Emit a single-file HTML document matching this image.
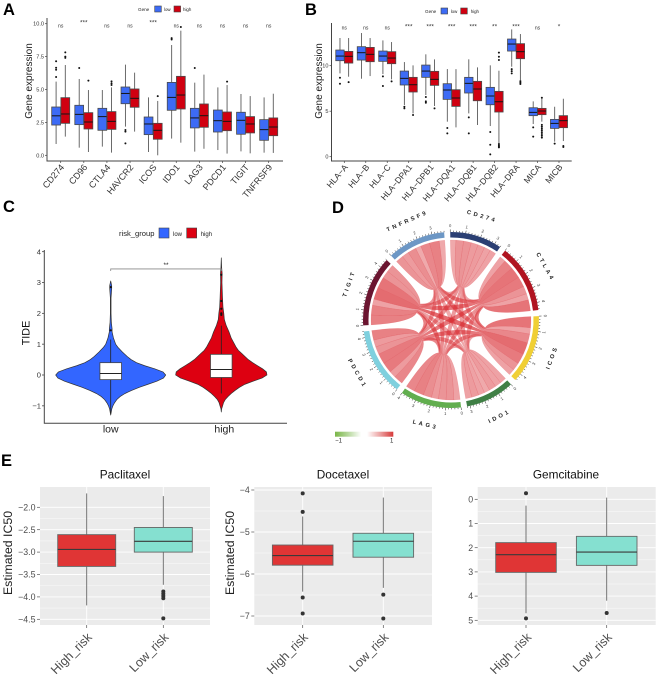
<!DOCTYPE html>
<html lang="en">
<head>
<meta charset="utf-8">
<title>Immune gene expression panels</title>
<style>
html,body{margin:0;padding:0;background:#fff;width:659px;height:678px;overflow:hidden}
svg{display:block;filter:blur(.3px)}
text{font-family:"Liberation Sans",sans-serif}
</style>
</head>
<body>
<svg id="fig" width="659" height="678" viewBox="0 0 659 678" xmlns="http://www.w3.org/2000/svg">
  <text x="3" y="15" font-size="16.5" font-weight="700">A</text>
  <text x="305" y="15" font-size="16.5" font-weight="700">B</text>
  <text x="3" y="212" font-size="16.5" font-weight="700">C</text>
  <text x="332" y="213" font-size="16.5" font-weight="700">D</text>
  <text x="1" y="466" font-size="16.5" font-weight="700">E</text>

  <g id="panelA">
    <text transform="translate(32,81) rotate(-90)" text-anchor="middle" font-size="10" fill="#222">Gene  expression</text>
    <text x="138" y="11" font-size="4.6" fill="#222">Gene</text>
    <rect x="154.7" y="6" width="6.6" height="6" fill="#3d6bf5" stroke="#444" stroke-width=".6"/>
    <text x="164" y="11" font-size="4.4" fill="#222">low</text>
    <rect x="174" y="6" width="6.6" height="6" fill="#d00010" stroke="#444" stroke-width=".6"/>
    <text x="183" y="11" font-size="4.4" fill="#222">high</text>
    <path d="M47 18V161H283" fill="none" stroke="#444" stroke-width="1"/>
  </g>

  <g id="panelB">
    <text transform="translate(322,81) rotate(-90)" text-anchor="middle" font-size="10" fill="#222">Gene  expression</text>
    <text x="425" y="13" font-size="4.6" fill="#222">Gene</text>
    <rect x="441" y="8" width="6.6" height="6" fill="#3d6bf5" stroke="#444" stroke-width=".6"/>
    <text x="450.7" y="13" font-size="4.4" fill="#222">low</text>
    <rect x="460.7" y="8" width="6.6" height="6" fill="#d00010" stroke="#444" stroke-width=".6"/>
    <text x="470.7" y="13" font-size="4.4" fill="#222">high</text>
    <path d="M331.5 23V161H571.7" fill="none" stroke="#444" stroke-width="1"/>
  </g>

  <g id="panelC">
    <text transform="translate(29.3,333) rotate(-90)" text-anchor="middle" font-size="10.8" fill="#111">TIDE</text>
    <text x="119" y="236" font-size="7.6" fill="#222">risk_group</text>
    <rect x="159" y="228" width="10" height="10" fill="#3366ff" stroke="#444" stroke-width=".6"/>
    <text x="173" y="236" font-size="6" fill="#222">low</text>
    <rect x="186.7" y="228" width="10" height="10" fill="#dd0011" stroke="#444" stroke-width=".6"/>
    <text x="200.7" y="236" font-size="6" fill="#222">high</text>
    <path d="M44.3 250V423.3H287" fill="none" stroke="#444" stroke-width="1"/>
  </g>

  <g id="panelD">
    <defs>
      <linearGradient id="corrGradient" x1="0" x2="1" y1="0" y2="0">
        <stop offset="0" stop-color="#7ab648"/>
        <stop offset=".22" stop-color="#b5d79b"/>
        <stop offset=".45" stop-color="#ffffff"/>
        <stop offset=".55" stop-color="#ffffff"/>
        <stop offset=".78" stop-color="#eba0a0"/>
        <stop offset="1" stop-color="#d73a3a"/>
      </linearGradient>
    </defs>
    <rect x="335" y="431.7" width="58.3" height="5" fill="url(#corrGradient)"/>
    <text x="338.5" y="442.5" text-anchor="middle" font-size="6" fill="#222">−1</text>
    <text x="391.7" y="442.5" text-anchor="middle" font-size="6" fill="#222">1</text>
  </g>

  <g id="panelE"></g>
</svg>

<script>
/* ---------- Panel A data: [whiskerLow, q1, median, q3, whiskerHigh] ---------- */
var aCategories = ["CD274","CD96","CTLA4","HAVCR2","ICOS","IDO1","LAG3","PDCD1","TIGIT","TNFRSF9"];
var aSignificance = ["ns","***","ns","ns","***","ns","ns","ns","ns","ns"];
var aTickValues = [0,2.5,5,7.5,10];
var aTickLabels = ["0.0","2.5","5.0","7.5","10.0"];
var aLowStats = [[.86,2.3,3,3.67,5.6],[.58,2.33,3.11,3.8,5.8],[.66,1.9,2.94,3.57,4.96],[2.18,3.92,4.7,5.19,6.89],[.25,1.57,2.38,2.91,4.4],[1.27,3.42,4.4,5.54,8.38],[.28,2.08,2.84,3.57,5.52],[.4,1.77,2.63,3.44,5.16],[.3,1.6,2.66,3.27,4.66],[.2,1.14,1.95,2.71,4.4]];
var aHighStats = [[1.42,2.43,3.14,4.38,6.86],[.25,2,2.53,3.24,4.96],[.2,1.97,2.58,3.32,5.16],[1.8,3.65,4.33,5.04,6.28],[0,1.22,1.9,2.43,4.13],[.96,3.52,4.58,6,9.47],[.5,2.13,3.01,3.9,6.13],[.13,1.87,2.58,3.29,5.34],[.15,1.7,2.38,2.94,4.5],[.18,1.49,2.15,2.84,4.68]];
var aLowOutliers = [[5.95,6.5,6.65,7.15],[6.63],[],[1.92,1.8,.91],[],[8.8,8.9],[6.63],[],[],[]];
var aHighOutliers = [[7.4,7.5,7.82],[5.67],[5.34,5.47,5.62],[],[4.5],[9.75],[],[5.6],[],[]];

/* ---------- Panel B data ---------- */
var bCategories = ["HLA-A","HLA-B","HLA-C","HLA-DPA1","HLA-DPB1","HLA-DQA1","HLA-DQB1","HLA-DQB2","HLA-DRA","MICA","MICB"];
var bSignificance = ["ns","ns","ns","***","***","***","***","**","***","ns","*"];
var bTickValues = [0,5,10];
var bTickLabels = ["0","5","10"];
var bLowStats = [[9.16,10.55,11.06,11.72,13.04],[8.57,10.62,11.43,12.09,13.59],[9.08,10.48,11.06,11.61,12.78],[5.68,7.88,8.61,9.41,10.4],[6.78,8.72,9.41,10.07,11.25],[3.85,6.3,7.33,8.02,9.63],[4.76,7,8.06,8.72,10.7],[3.37,5.71,6.67,7.62,10.04],[9.89,11.61,12.38,12.93,13.99],[3.59,4.51,4.87,5.38,6.08],[1.65,3.11,3.66,4.1,5.49]];
var bHighStats = [[8.79,10.29,11.03,11.57,13.04],[8.86,10.44,11.25,12.01,13.04],[8.5,10.22,10.84,11.54,12.6],[4.76,7.11,7.91,8.72,10.04],[5.57,7.84,8.5,9.38,10.7],[3.22,5.53,6.45,7.36,9.63],[3.48,6.15,7.44,8.28,9.82],[1.47,4.91,6.04,7.18,9.45],[8.42,10.77,11.54,12.42,13.48],[3.85,4.62,5.02,5.31,6.37],[1.72,3.19,3.96,4.51,6.37]];
var bLowOutliers = [[8.68,8.02],[],[8.83,7.77],[5.49,5.31],[6.56,6.08,5.93],[3.15,2.56],[4.32,2.56],[2.71,1.32,.26],[9.63,9.41,9.16],[3.22,2.2],[1.43]];
var bHighOutliers = [[8.2],[],[8.28],[4.58],[5.31],[],[],[1.39,1.25,1.1,1.03,11.43,10.99,10.62],[8.31,8.13,7.99],[3.5,3.3,3.1,2.9,2.7,2.5,2.3,2.1,6.48],[1.17,1.06]];

/* ---------- Panel C data ---------- */
var cCategories = ["low","high"];
var cTickValues = [-1,0,1,2,3,4];
var cTideGridLow = [-1.3,-1.1,-1,-.9,-.8,-.7,-.6,-.5,-.4,-.3,-.2,-.1,0,.1,.2,.3,.4,.5,.6,.75,.9,1,1.2,1.4,1.5,1.7,2,2.5,2.8,2.9,3.05];
var cDensityLow = [0,.02,.04,.07,.11,.17,.26,.38,.52,.68,.84,.96,1,.95,.8,.62,.47,.37,.3,.21,.13,.09,.05,.025,.025,.012,.006,.006,.018,.018,0];
var cTideGridHigh = [-1.2,-1.1,-1,-.9,-.8,-.7,-.6,-.5,-.4,-.3,-.2,-.1,0,.1,.2,.3,.4,.5,.6,.7,.8,.9,1,1.2,1.4,1.6,1.8,2,2.2,2.5,3,3.3,3.5,3.8];
var cDensityHigh = [0,.006,.024,.04,.07,.12,.18,.25,.33,.43,.58,.74,.83,.82,.75,.66,.57,.49,.43,.37,.31,.27,.24,.18,.14,.09,.055,.045,.03,.022,.012,.015,.006,0];
var cBoxStats = [[-1.25,-.15,.05,.4,1.15],[-.6,-.08,.18,.67,1.6]];
var cOutliers = [[2.85,1.45],[3.25,2.4,2.15,2,1.95]];
var cBracketValue = 3.44;

/* ---------- Panel D data (order follows chordGenes) ---------- */
var chordGenes = ["CD274","CTLA4","ICOS","IDO1","LAG3","PDCD1","TIGIT","TNFRSF9"];
var chordColors = ["#2b3f73","#b01420","#f0cf35","#3f7f45","#62ae4f","#7fd0de","#6b1530","#6d97c5"];
var chordCorrCD274 = [0,.45,.45,.5,.5,.55,.55,.4];
var chordCorrCTLA4 = [.45,0,.8,.45,.55,.75,.8,.7];
var chordCorrICOS = [.45,.8,0,.45,.55,.75,.85,.65];
var chordCorrIDO1 = [.5,.45,.45,0,.45,.5,.45,.4];
var chordCorrLAG3 = [.5,.55,.55,.45,0,.65,.7,.6];
var chordCorrPDCD1 = [.55,.75,.75,.5,.65,0,.7,.5];
var chordCorrTIGIT = [.55,.8,.85,.45,.7,.7,0,.55];
var chordCorrTNFRSF9 = [.4,.7,.65,.4,.6,.5,.55,0];
var chordMatrix = [chordCorrCD274,chordCorrCTLA4,chordCorrICOS,chordCorrIDO1,chordCorrLAG3,chordCorrPDCD1,chordCorrTIGIT,chordCorrTNFRSF9];

/* ---------- Panel E data ---------- */
var eCategories = ["High_risk","Low_risk"];
var paclitaxelTicks = [-2,-2.5,-3,-3.5,-4,-4.5];
var paclitaxelTickLabels = ["−2.0","−2.5","−3.0","−3.5","−4.0","−4.5"];
var paclitaxelStats = [[-4.19,-3.32,-2.94,-2.61,-1.69],[-3.73,-3,-2.76,-2.45,-1.75]];
var paclitaxelOutliers = [[],[-3.88,-3.93,-3.98,-4.03,-4.48]];
var docetaxelTicks = [-4,-5,-6,-7];
var docetaxelTickLabels = ["−4","−5","−6","−7"];
var docetaxelStats = [[-6.42,-5.79,-5.56,-5.31,-4.63],[-6.33,-5.6,-5.22,-5.03,-4.18]];
var docetaxelOutliers = [[-4.08,-4.52,-6.56,-6.94],[-6.49,-7.06]];
var gemcitabineTicks = [0,1,2,3,4,5];
var gemcitabineTickLabels = ["0","1","2","3","4","5"];
var gemcitabineStats = [[.26,1.79,2.29,3.02,4.71],[-.07,1.53,2.18,2.73,4.19]];
var gemcitabineOutliers = [[-.25,4.92],[4.7]];

var NS = "http://www.w3.org/2000/svg";
function make(tag, attrs, parent, text) {
  var node = document.createElementNS(NS, tag);
  for (var k in attrs) node.setAttribute(k, attrs[k]);
  if (text !== undefined) node.textContent = text;
  parent.appendChild(node);
  return node;
}
function slug(s) { return String(s).toLowerCase().replace(/[^a-z0-9]+/g, "-"); }

/* ---------- Grouped box plots (A, B) ---------- */
function drawSingleBox(parent, cx, half, stat, outliers, fill, yOf, r, label) {
  var g = make("g", {}, parent);
  
  
  var whisker = make("line", {x1:cx,x2:cx,y1:yOf(stat[0]),y2:yOf(stat[4]),stroke:"#5a5a5a","stroke-width":.9}, g);
  
  
  var box = make("rect", {x:cx-half,y:yOf(stat[3]),width:half*2,height:yOf(stat[1])-yOf(stat[3]),fill:fill,stroke:"#4a4a4a","stroke-width":.8}, g);
  
  
  var med = make("line", {x1:cx-half,x2:cx+half,y1:yOf(stat[2]),y2:yOf(stat[2]),stroke:"#141414","stroke-width":1}, g);
  
  
  outliers.forEach(function (v) {
    var dot = make("circle", {cx:cx,cy:yOf(v),r:r,fill:"#111"}, g);
    
    
  });
}
function drawGrouped(rootId, cats, sig, ticks, tickLabels, low, high, lowOut, highOut, xOf, yOf, offset, half, axisX, sigY, starY, axisY, labelSize) {
  var root = document.getElementById(rootId);
  ticks.forEach(function (v, i) {
    var tick = make("line", {x1:axisX-2,x2:axisX,y1:yOf(v),y2:yOf(v),stroke:"#444","stroke-width":.7}, root);
    
    
    var lab = make("text", {x:axisX-3,y:yOf(v)+2,"text-anchor":"end","font-size":5.6,fill:"#333"}, root, tickLabels[i]);
    
    
  });
  cats.forEach(function (c, i) {
    var cx = xOf(i);
    drawSingleBox(root, cx-offset, half, low[i], lowOut[i], "#3d6bf5", yOf, 1, slug(c)+"-low");
    drawSingleBox(root, cx+offset, half, high[i], highOut[i], "#d00010", yOf, 1, slug(c)+"-high");
    var isStar = sig[i] !== "ns";
    var s = make("text", {x:cx,y:isStar?starY:sigY,"text-anchor":"middle","font-size":isStar?6.5:5,fill:"#333"}, root, sig[i]);
    
    
    var t = make("line", {x1:cx,x2:cx,y1:axisY,y2:axisY+2,stroke:"#444","stroke-width":.7}, root);
    
    
    var xl = make("text", {transform:"translate("+(cx+4)+","+(axisY+6.5)+") rotate(-50)","text-anchor":"end","font-size":labelSize,fill:"#333"}, root, c.replace(/-/g,"−"));
    
    
  });
}
drawGrouped("panelA", aCategories, aSignificance, aTickValues, aTickLabels, aLowStats, aHighStats, aLowOutliers, aHighOutliers,
  function (i) { return 60.7 + 23.11 * i; }, function (v) { return 155.3 - 13.16 * v; }, 4.6, 4.4, 47, 27.5, 24.5, 161, 9);
drawGrouped("panelB", bCategories, bSignificance, bTickValues, bTickLabels, bLowStats, bHighStats, bLowOutliers, bHighOutliers,
  function (i) { return 344.3 + 21.47 * i; }, function (v) { return 156.7 - 9.1 * v; }, 4.33, 4.2, 331.5, 29.5, 28.5, 161, 8.6);

/* ---------- Violin (C) ---------- */
(function () {
  var root = document.getElementById("panelC");
  function yOf(v) { return 375 - 30.83 * v; }
  function xOf(i) { return 110.7 + 110.6 * i; }
  function widthOf(d) { return 55 * d; }
  cTickValues.forEach(function (v) {
    var t = make("line", {x1:42,x2:44.3,y1:yOf(v),y2:yOf(v),stroke:"#444","stroke-width":.8}, root);
    
    
    var l = make("text", {x:41,y:yOf(v)+2.7,"text-anchor":"end","font-size":7.6,fill:"#333"}, root, String(v).replace("-","−"));
    
    
  });
  [[cTideGridLow,cDensityLow,"#3366ff"],[cTideGridHigh,cDensityHigh,"#dd0011"]].forEach(function (spec, i) {
    var cx = xOf(i), pts = [], k;
    for (k = 0; k < spec[0].length; k++) pts.push((cx - widthOf(spec[1][k])).toFixed(2) + "," + yOf(spec[0][k]).toFixed(2));
    for (k = spec[0].length - 1; k >= 0; k--) pts.push((cx + widthOf(spec[1][k])).toFixed(2) + "," + yOf(spec[0][k]).toFixed(2));
    var v = make("polygon", {points:pts.join(" "),fill:spec[2],stroke:"#333","stroke-width":.7,"stroke-linejoin":"round"}, root);
    
    
    var s = cBoxStats[i];
    var wh = make("line", {x1:cx,x2:cx,y1:yOf(s[0]),y2:yOf(s[4]),stroke:"#222","stroke-width":.8}, root);
    
    
    var b = make("rect", {x:cx-10.8,y:yOf(s[3]),width:21.6,height:yOf(s[1])-yOf(s[3]),fill:"#fff",stroke:"#444","stroke-width":.8}, root);
    
    
    var m = make("line", {x1:cx-10.8,x2:cx+10.8,y1:yOf(s[2]),y2:yOf(s[2]),stroke:"#222","stroke-width":1}, root);
    
    
    cOutliers[i].forEach(function (o) {
      var d = make("circle", {cx:cx,cy:yOf(o),r:1.1,fill:"#111"}, root);
      
      
    });
    var xl = make("text", {x:i ? cx+3 : cx,y:432.5,"text-anchor":"middle","font-size":10.5,fill:"#222"}, root, cCategories[i]);
    
    
  });
  var by = yOf(cBracketValue);
  var br = make("path", {d:"M"+xOf(0)+" "+(by+2)+"V"+by+"H"+xOf(1)+"V"+(by+2),fill:"none",stroke:"#888","stroke-width":.8}, root);
  
  
  var st = make("text", {x:166,y:by-2,"text-anchor":"middle","font-size":6.5,fill:"#222"}, root, "**");
  
  
})();

/* ---------- Chord (D) ---------- */
(function () {
  var root = document.getElementById("panelD");
  var CX = 451, CY = 320, R_RIBBON = 80, R_IN = 82.5, R_OUT = 88, R_WAIST = 35, R_CTRL = 40, BRIDGE_SWELL = 3.2;
  var GAP = 4, n = chordGenes.length;
  var sums = chordMatrix.map(function (row) { return row.reduce(function (a, b) { return a + b; }, 0); });
  var total = sums.reduce(function (a, b) { return a + b; }, 0);
  var degPerUnit = (360 - GAP * n) / total;
  function pol(deg, r) {
    var t = deg * Math.PI / 180;
    return [CX + r * Math.sin(t), CY - r * Math.cos(t)];
  }
  function P(p) { return p[0].toFixed(2) + " " + p[1].toFixed(2); }
  var start = [], mid = [], cursor = -0.5;
  sums.forEach(function (s, i) {
    start[i] = cursor;
    mid[i] = cursor + s * degPerUnit / 2;
    cursor += s * degPerUnit + GAP;
  });
  var span = {};
  chordGenes.forEach(function (g, i) {
    var a = start[i];
    for (var step = 1; step < n; step++) {
      var j = (i - step + n) % n;
      var w = chordMatrix[i][j] * degPerUnit;
      span[i + "-" + j] = [a, a + w];
      a += w;
    }
  });
  function waist(i, t) { return pol(mid[i] + (t - mid[i]) * 0.34, R_WAIST); }
  function arc(t1, t2, r) { return "A" + r + " " + r + " 0 0 1 " + P(pol(t2, r)); }
  function bridge(p, q) {
    var dx = q[0] - p[0], dy = q[1] - p[1], len = Math.sqrt(dx * dx + dy * dy) || 1;
    var c = [CX + ((p[0] + q[0]) / 2 - CX) * 0.55 + BRIDGE_SWELL * dy / len,
             CY + ((p[1] + q[1]) / 2 - CY) * 0.55 - BRIDGE_SWELL * dx / len];
    return "Q" + P(c) + " " + P(q);
  }
  var links = [];
  for (var i = 0; i < n; i++) for (var j = i + 1; j < n; j++) links.push([i, j]);
  links.sort(function (p, q) { return chordMatrix[p[0]][p[1]] - chordMatrix[q[0]][q[1]]; });
  links.forEach(function (l) {
    var i = l[0], j = l[1], a = span[i + "-" + j], b = span[j + "-" + i], val = chordMatrix[i][j];
    var wa1 = waist(i, a[0]), wa2 = waist(i, a[1]), wb1 = waist(j, b[0]), wb2 = waist(j, b[1]);
    var d = "M" + P(pol(a[0], R_RIBBON)) + arc(a[0], a[1], R_RIBBON) +
      "Q" + P(pol(a[1], R_CTRL)) + " " + P(wa2) + bridge(wa2, wb1) +
      "Q" + P(pol(b[0], R_CTRL)) + " " + P(pol(b[0], R_RIBBON)) + arc(b[0], b[1], R_RIBBON) +
      "Q" + P(pol(b[1], R_CTRL)) + " " + P(wb2) + bridge(wb2, wa1) +
      "Q" + P(pol(a[0], R_CTRL)) + " " + P(pol(a[0], R_RIBBON)) + "Z";
    var rib = make("path", {d:d,fill:"#d92f35","fill-opacity":(0.16 + 0.64 * val).toFixed(3),stroke:"#d92f35","stroke-opacity":.25,"stroke-width":.4}, root);
    
    
  });
  function upright(a) {
    var x = ((a % 360) + 360) % 360;
    if (x > 90 && x < 270) return x - 180;
    return x >= 270 ? x - 360 : x;
  }
  chordGenes.forEach(function (g, i) {
    var a1 = start[i], a2 = start[i] + sums[i] * degPerUnit;
    var d = "M" + P(pol(a1, R_OUT)) + arc(a1, a2, R_OUT) + "L" + P(pol(a2, R_IN)) + "A" + R_IN + " " + R_IN + " 0 0 0 " + P(pol(a1, R_IN)) + "Z";
    var sec = make("path", {d:d,fill:chordColors[i]}, root);
    
    
    var minor = "", major = "";
    for (var k = 0; k <= Math.floor(sums[i] * 5 + 1e-6); k++) {
      var t = a1 + k * 0.2 * degPerUnit;
      if (k % 5 === 0) {
        major += "M" + P(pol(t, R_OUT)) + "L" + P(pol(t, R_OUT + 2.6));
        var pos = pol(t, R_OUT + 6);
        var num = make("text", {transform:"translate("+pos[0].toFixed(2)+","+pos[1].toFixed(2)+") rotate("+upright(t).toFixed(1)+")","text-anchor":"middle","dominant-baseline":"middle","font-size":4.2,fill:"#333"}, root, String(k / 5));
        
        
      } else {
        minor += "M" + P(pol(t, R_OUT)) + "L" + P(pol(t, R_OUT + 1.4));
      }
    }
    var tk = make("path", {d:major + minor,stroke:"#222","stroke-width":.5,fill:"none"}, root);
    
    
    var c = pol(mid[i], 108);
    var name = make("text", {transform:"translate("+c[0].toFixed(2)+","+c[1].toFixed(2)+") rotate("+upright(mid[i]).toFixed(1)+")","text-anchor":"middle","dominant-baseline":"middle","font-size":5.8,"font-weight":700,"letter-spacing":2.7,fill:"#222"}, root, g);
    
    
  });
})();

/* ---------- Drug box plots (E) ---------- */
function drawDrug(title, titleX, left, right, ticks, tickLabels, stats, outliers, xOf, yOf, half, yTitleX) {
  var root = document.getElementById("panelE");
  var top = 487, bottom = 625, key = slug(title);
  var g = make("g", {}, root);
  
  
  var bg = make("rect", {x:left,y:top,width:right-left,height:bottom-top,fill:"#ebebeb"}, g);
  
  
  ticks.forEach(function (v, i) {
    if (i < ticks.length - 1) {
      var mv = (v + ticks[i + 1]) / 2;
      var minor = make("line", {x1:left,x2:right,y1:yOf(mv),y2:yOf(mv),stroke:"#fff","stroke-width":.4}, g);
      
      
    }
    var grid = make("line", {x1:left,x2:right,y1:yOf(v),y2:yOf(v),stroke:"#fff","stroke-width":.9}, g);
    
    
    var t = make("line", {x1:left-3,x2:left,y1:yOf(v),y2:yOf(v),stroke:"#555","stroke-width":.7}, g);
    
    
    var l = make("text", {x:left-4.5,y:yOf(v)+3.1,"text-anchor":"end","font-size":8.8,fill:"#4d4d4d"}, g, tickLabels[i]);
    
    
  });
  eCategories.forEach(function (c, i) {
    var cx = xOf(i), s = stats[i];
    var boxTop = Math.min(yOf(s[1]), yOf(s[3]));
    var boxHeight = Math.abs(yOf(s[1]) - yOf(s[3]));
    var vg = make("line", {x1:cx,x2:cx,y1:top,y2:bottom,stroke:"#fff","stroke-width":.9}, g);
    
    
    var wh = make("line", {x1:cx,x2:cx,y1:yOf(s[0]),y2:yOf(s[4]),stroke:"#666","stroke-width":.9}, g);
    
    
    var b = make("rect", {x:cx-half,y:boxTop,width:half*2,height:boxHeight,fill:i ? "#85e0d0" : "#e03535",stroke:"#666","stroke-width":.9}, g);
    
    
    var m = make("line", {x1:cx-half,x2:cx+half,y1:yOf(s[2]),y2:yOf(s[2]),stroke:"#3a3a3a","stroke-width":1.1}, g);
    
    
    outliers[i].forEach(function (o) {
      var d = make("circle", {cx:cx,cy:yOf(o),r:2,fill:"#333"}, g);
      
      
    });
    var t = make("line", {x1:cx,x2:cx,y1:bottom,y2:bottom+3,stroke:"#555","stroke-width":.7}, g);
    
    
    var xl = make("text", {transform:"translate("+(cx+6)+","+(bottom+13)+") rotate(-45)","text-anchor":"end","font-size":12.5,fill:"#4d4d4d"}, g, c);
    
    
  });
  var tt = make("text", {x:titleX,y:478.5,"text-anchor":"middle","font-size":11.8,fill:"#111"}, g, title);
  
  
  if (yTitleX) {
    var yt = make("text", {transform:"translate("+yTitleX+",553) rotate(-90)","text-anchor":"middle","font-size":12.3,fill:"#222"}, g, "Estimated IC50");
    
    
  }
}
drawDrug("Paclitaxel", 125, 40, 210, paclitaxelTicks, paclitaxelTickLabels, paclitaxelStats, paclitaxelOutliers,
  function (i) { return 86.7 + 76.6 * i; }, function (v) { return 507.3 + (-2 - v) * 44.8; }, 29, 12);
drawDrug("Docetaxel", 343, 254.3, 432, docetaxelTicks, docetaxelTickLabels, docetaxelStats, docetaxelOutliers,
  function (i) { return 302.7 + 80.6 * i; }, function (v) { return 490 + (-4 - v) * 42; }, 30.3, 234);
drawDrug("Gemcitabine", 566, 477.7, 655.7, gemcitabineTicks, gemcitabineTickLabels, gemcitabineStats, gemcitabineOutliers,
  function (i) { return 526 + 80.7 * i; }, function (v) { return 499.3 + v * 24.2; }, 30.3, 0);
</script>
</body>
</html>
